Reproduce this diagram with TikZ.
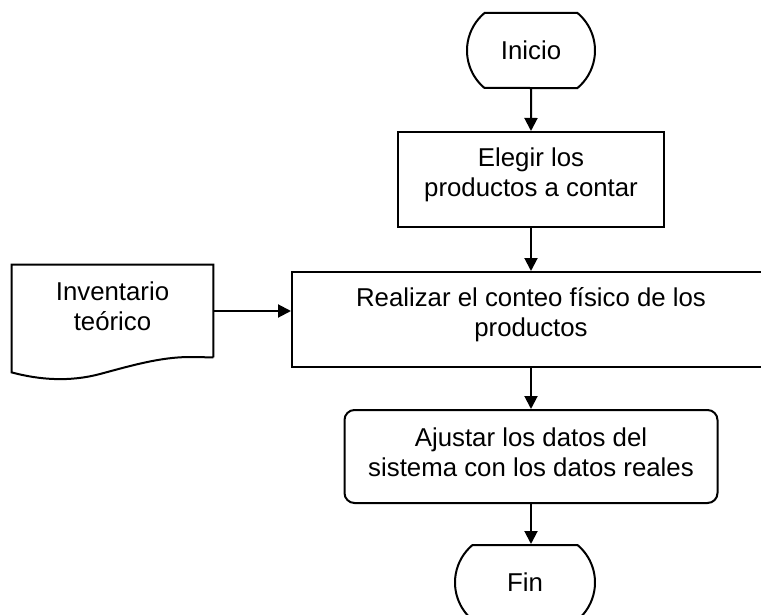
\documentclass[tikz,border=0pt]{standalone}
\usepackage{fontspec}
\setmainfont{Liberation Sans}
\usetikzlibrary{arrows.meta, calc, positioning, shapes.misc}
\newcommand{\liftlines}[2]{\raisebox{#1}[\height][\depth]{\begin{tabular}{@{}c@{}}#2\end{tabular}}}
\tikzset{
    termbox/.style={rounded rectangle, rounded rectangle arc length=100, draw=black, line width=1pt,
        inner sep=0pt, minimum height=37.5pt},
    procbox/.style={rectangle, draw=black, line width=1pt, inner sep=0pt, minimum height=47.5pt},
    roundbox/.style={procbox, rounded corners=5pt, minimum height=46.5pt},
    docbox/.style={rectangle, inner sep=0pt, minimum width=100.5pt, minimum height=46pt},
    arrow/.style={-{Triangle[length=6.5pt, width=6.5pt]}, line width=1pt},
}

\begin{document}
\begin{tikzpicture}[x=0.5pt, y=-0.5pt, font=\fontsize{12.9}{15}\selectfont]
    \useasboundingbox (0,0) rectangle (761,615);
    \node[termbox, minimum width=64pt] (inicio) at (531,50.5) {Inicio};
    \node[procbox, minimum width=133pt] (elegir) at (531,179.5) {\liftlines{2.1pt}{Elegir los\\productos a contar}};
    \node[procbox, minimum width=239pt] (realizar) at (531,319.5) {\liftlines{2.1pt}{Realizar el conteo físico de los\\productos}};
    \node[docbox] (inv) at (112.5,311) {\liftlines{1pt}{Inventario\\teórico}};
    \node[roundbox, minimum width=186.5pt] (ajustar) at (531,456.5) {\liftlines{0.3pt}{Ajustar los datos del\\sistema con los datos reales}};
    \node[termbox, minimum width=70pt] (fin) at (525,582.5) {Fin};
    % hoja del inventario
    \draw[line width=1pt] (inv.south east) -- (inv.north east) -- (inv.north west) -- ($(inv.south west)+(0,15)$)
        .. controls (40,380) and (70,382) .. (100,374) .. controls (130,366) and (160,357) .. (190,357) -- (inv.south east);
    \draw[arrow] (inicio) -- (elegir);
    \draw[arrow] (elegir) -- (realizar);
    \draw[arrow] (inv.east) -- (inv.east -| realizar.west);
    \draw[arrow] (realizar) -- (ajustar);
    \draw[arrow] (ajustar.south) -- (ajustar.south |- fin.north);
\end{tikzpicture}
\end{document}
